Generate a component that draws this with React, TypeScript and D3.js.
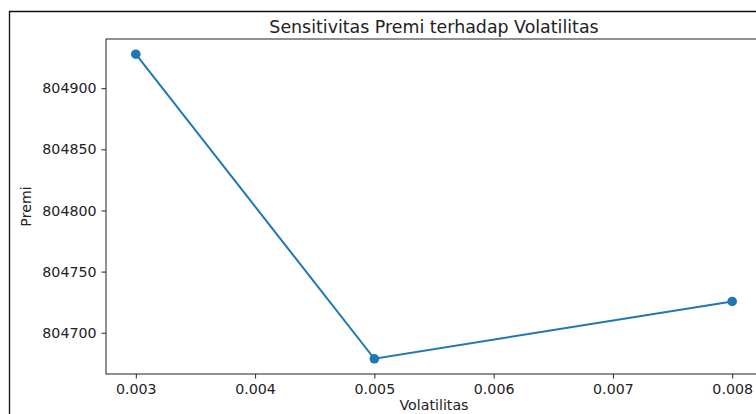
import { useEffect, useRef } from "react";
import * as d3 from "d3";

const volatilitas = [0.003, 0.005, 0.008];
const premi = [804927.8, 804678.7, 804725.6];
const xTicks = [0.003, 0.004, 0.005, 0.006, 0.007, 0.008];
const yTicks = [804700, 804750, 804800, 804850, 804900];

const W = 756;
const H = 414;

export default function App() {
  const svgRef = useRef<SVGSVGElement | null>(null);

  useEffect(() => {
    const svg = d3.select(svgRef.current);
    svg.selectAll("*").remove();

    const left = 106;
    const right = 762;
    const top = 39;
    const bottom = 374;
    const font = "DejaVu Sans, sans-serif";

    // outer figure frame (cropped screenshot)
    svg
      .append("path")
      .attr("d", `M9.5,${H} V11.5 H${W}`)
      .attr("fill", "none")
      .attr("stroke", "#111")
      .attr("stroke-width", 1.3);

    const xMin = d3.min(volatilitas)!;
    const xMax = d3.max(volatilitas)!;
    const xPad = (xMax - xMin) * 0.05;
    const yMin = d3.min(premi)!;
    const yMax = d3.max(premi)!;
    const yPad = (yMax - yMin) * 0.05;

    const x = d3
      .scaleLinear()
      .domain([xMin - xPad, xMax + xPad])
      .range([left, right]);
    const y = d3
      .scaleLinear()
      .domain([yMin - yPad, yMax + yPad])
      .range([bottom, top]);

    svg
      .append("rect")
      .attr("x", left)
      .attr("y", top)
      .attr("width", right - left)
      .attr("height", bottom - top)
      .attr("fill", "none")
      .attr("stroke", "#222")
      .attr("stroke-width", 1);

    const xAxis = svg
      .append("g")
      .attr("transform", `translate(0,${bottom})`)
      .call(
        d3
          .axisBottom(x)
          .tickValues(xTicks)
          .tickFormat(d3.format(".3f"))
          .tickSize(4.5)
          .tickPadding(5)
      );
    xAxis.select(".domain").remove();

    const yAxis = svg
      .append("g")
      .attr("transform", `translate(${left},0)`)
      .call(
        d3
          .axisLeft(y)
          .tickValues(yTicks)
          .tickFormat(d3.format("d"))
          .tickSize(4.5)
          .tickPadding(5)
      );
    yAxis.select(".domain").remove();

    svg
      .selectAll(".tick text")
      .attr("font-family", font)
      .attr("font-size", 14.2)
      .attr("fill", "#222");
    svg.selectAll(".tick line").attr("stroke", "#222");

    const line = d3
      .line<number>()
      .x((_, i) => x(volatilitas[i]))
      .y((d) => y(d));

    svg
      .append("path")
      .datum(premi)
      .attr("d", line)
      .attr("fill", "none")
      .attr("stroke", "#1f77b4")
      .attr("stroke-width", 2);

    svg
      .selectAll("circle.pt")
      .data(premi)
      .join("circle")
      .attr("class", "pt")
      .attr("cx", (_, i) => x(volatilitas[i]))
      .attr("cy", (d) => y(d))
      .attr("r", 4.8)
      .attr("fill", "#1f77b4");

    svg
      .append("text")
      .attr("x", (left + right) / 2)
      .attr("y", 33)
      .attr("text-anchor", "middle")
      .attr("font-family", font)
      .attr("font-size", 17.4)
      .attr("fill", "#222")
      .text("Sensitivitas Premi terhadap Volatilitas");

    svg
      .append("text")
      .attr("x", (left + right) / 2)
      .attr("y", 410)
      .attr("text-anchor", "middle")
      .attr("font-family", font)
      .attr("font-size", 14.2)
      .attr("fill", "#222")
      .text("Volatilitas");

    svg
      .append("text")
      .attr("transform", `translate(31,${(top + bottom) / 2}) rotate(-90)`)
      .attr("text-anchor", "middle")
      .attr("font-family", font)
      .attr("font-size", 14.2)
      .attr("fill", "#222")
      .text("Premi");
  }, []);

  return (
    <svg
      ref={svgRef}
      width={W}
      height={H}
      style={{ position: "absolute", left: 0, top: 0, background: "#fff" }}
    />
  );
}
